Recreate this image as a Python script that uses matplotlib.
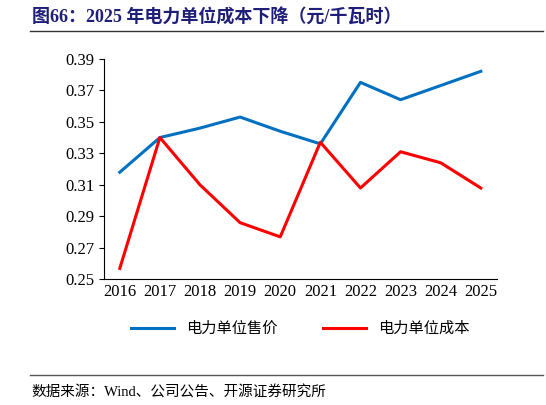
import matplotlib
matplotlib.use("Agg")
import matplotlib.pyplot as plt

plt.rcParams['font.family'] = ['Liberation Serif', 'Noto Sans CJK SC']

years = ['2016', '2017', '2018', '2019', '2020', '2021', '2022', '2023', '2024', '2025']
price = [0.318, 0.340, 0.346, 0.353, 0.344, 0.336, 0.375, 0.364, 0.373, 0.382]
cost = [0.257, 0.340, 0.310, 0.286, 0.277, 0.337, 0.308, 0.331, 0.324, 0.308]

fig = plt.figure(figsize=(5.46, 4.05), dpi=100)
ax = fig.add_axes([0.19, 0.31, 0.72, 0.545])

x = range(len(years))
ax.plot(x, price, color='#0070C0', lw=2.2, label='电力单位售价')
ax.plot(x, cost, color='#FF0000', lw=2.2, label='电力单位成本')

ax.set_ylim(0.25, 0.39)
ax.set_yticks([0.25, 0.27, 0.29, 0.31, 0.33, 0.35, 0.37, 0.39])
ax.set_yticklabels(['%.2f' % v for v in ax.get_yticks()])
ax.set_xticks(list(x))
ax.set_xticklabels(years)
ax.set_xlim(-0.4, 9.4)
ax.tick_params(labelsize=12, direction='out')
ax.tick_params(axis='x', length=0)
for s in ['top', 'right']:
    ax.spines[s].set_visible(False)

ax.legend(loc='upper center', bbox_to_anchor=(0.5, -0.13), ncol=2, frameon=False,
          fontsize=11, handlelength=2.8, columnspacing=3)

fig.text(0.058, 0.945, '图66：2025 年电力单位成本下降（元/千瓦时）', color='#1F1F7A',
         fontsize=13, fontweight='bold')
fig.add_artist(plt.Line2D([0.055, 0.995], [0.923, 0.923], color='#333333', lw=1))
fig.add_artist(plt.Line2D([0.055, 0.995], [0.075, 0.075], color='#555555', lw=1))
fig.text(0.058, 0.02, '数据来源：Wind、公司公告、开源证券研究所', fontsize=10.5)

fig.savefig('out.png')
